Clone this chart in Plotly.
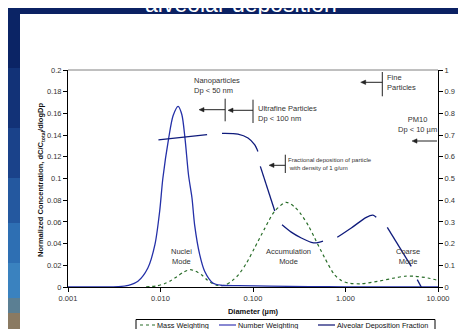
import plotly.graph_objects as go
import math

# ---------------- data ----------------
diam_number = [0.001, 0.003, 0.0035, 0.0045, 0.0057, 0.0073, 0.0087, 0.0098, 0.0106,
               0.01225, 0.0137, 0.0155, 0.017, 0.0184, 0.0201, 0.0219, 0.0234, 0.0265,
               0.030, 0.0368, 0.045, 0.07, 0.15, 0.4, 1.0, 3.0, 10.0]
number_weighting = [0.0, 0.0001, 0.0003, 0.0016, 0.0053, 0.0175, 0.039, 0.070, 0.100,
                    0.137, 0.158, 0.1665, 0.159, 0.137, 0.103, 0.082, 0.057, 0.030,
                    0.0145, 0.0037, 0.0016, 0.0012, 0.0008, 0.0004, 0.0002, 0.0001, 0.0]

diam_mass = [0.007, 0.009, 0.011, 0.013, 0.015, 0.018, 0.021, 0.024, 0.028, 0.032,
             0.036, 0.040, 0.045, 0.050, 0.060, 0.070, 0.085, 0.104, 0.134, 0.172,
             0.228, 0.28, 0.333, 0.40, 0.465, 0.595, 0.76, 0.9, 1.07, 1.49, 2.24,
             3.39, 4.35, 5.6, 7.78, 10.0]
mass_weighting = [0.0002, 0.001, 0.003, 0.006, 0.0095, 0.014, 0.016, 0.0145, 0.011, 0.0065,
                  0.0035, 0.0018, 0.0012, 0.0018, 0.006, 0.0115, 0.022, 0.036, 0.054, 0.070,
                  0.078, 0.074, 0.0666, 0.056, 0.045, 0.027, 0.0113, 0.006, 0.0037, 0.003, 0.0053,
                  0.0083, 0.0099, 0.0099, 0.0083, 0.006]

diam_alveolar = [0.0095, 0.0319, None,
                 0.0462, 0.0688, 0.0883, 0.104, 0.113, None,
                 0.12, 0.172, None,
                 0.206, 0.259, 0.333, 0.427, 0.483, 0.571, None,
                 0.815, 1.155, 1.679, 1.98, 2.15, None,
                 2.83, 5.14, None,
                 5.97, 6.59]
alveolar_fraction = [0.678, 0.702, None,
                     0.708, 0.705, 0.687, 0.656, 0.625, None,
                     0.556, 0.35, None,
                     0.287, 0.253, 0.226, 0.206, 0.203, 0.211, None,
                     0.229, 0.272, 0.321, 0.331, 0.321, None,
                     0.275, 0.095, None,
                     0.034, 0.0]

x_tick_vals = [0.001, 0.01, 0.1, 1, 10]
x_tick_text = ["0.001", "0.010", "0.100", "1.000", "10.000"]

series_names = ["Mass Weighting", "Number Weighting", "Alveolar Deposition Fraction"]

# size-class boundaries (µm) marked with bars and arrows
nano_limit = 0.05
ultrafine_limit = 0.1
fine_limit = 2.5

# ---------------- layout helpers ----------------
W, H = 466, 329
L, R, T, B = 60, 36, 62, 50
PW, PH = W - L - R, H - T - B


def P(px, py):
    return (px - L) / PW, (H - B - py) / PH


def XD(d):
    # pixel position of a diameter on the log axis
    return L + (math.log10(d) + 3) / 4 * PW


FONT = "Liberation Sans, Arial, sans-serif"
TXT = "#333333"
ARROW = "#222222"
C_MASS = "#2a6e2a"
C_NUM = "#2430a8"
C_ALV = "#0f1b7c"

fig = go.Figure()

fig.add_trace(go.Scatter(
    x=diam_mass, y=mass_weighting, name=series_names[0], mode="lines", showlegend=False,
    line=dict(color=C_MASS, width=1.2, dash="dot", shape="spline", smoothing=0.8)))
fig.add_trace(go.Scatter(
    x=diam_number, y=number_weighting, name=series_names[1], mode="lines", showlegend=False,
    line=dict(color=C_NUM, width=1.3, shape="spline", smoothing=0.8)))
fig.add_trace(go.Scatter(
    x=diam_alveolar, y=alveolar_fraction, name=series_names[2], mode="lines", showlegend=False,
    yaxis="y2", connectgaps=False,
    line=dict(color=C_ALV, width=1.3, shape="spline", smoothing=0.8)))

shapes = []
# slide background: top band and left strip
shapes.append(dict(type="rect", xref="paper", yref="paper",
                   x0=P(0, 0)[0], x1=P(W, 0)[0], y0=P(0, 6)[1], y1=P(0, -2)[1],
                   fillcolor="#0b2163", line=dict(width=0), layer="below"))
strip = [(0, 60, "#0b2465"), (60, 120, "#123277"), (120, 170, "#1a428a"),
         (170, 215, "#24589f"), (215, 255, "#2e6fb3"), (255, 290, "#3a82bf"),
         (290, 305, "#5b7f93"), (305, 331, "#8a7a62")]
for y0, y1, c in strip:
    shapes.append(dict(type="rect", xref="paper", yref="paper",
                       x0=P(-2, 0)[0], x1=P(12, 0)[0], y0=P(0, y1)[1], y1=P(0, y0)[1],
                       fillcolor=c, line=dict(width=0), layer="below"))
# gray top border of plot area
shapes.append(dict(type="line", xref="paper", yref="paper", x0=0, x1=1, y0=1, y1=1,
                   line=dict(color="#808080", width=1)))


def hline(x0, x1, py, color, width=1, dash="solid"):
    a = P(x0, py)
    b = P(x1, py)
    shapes.append(dict(type="line", xref="paper", yref="paper", x0=a[0], x1=b[0],
                       y0=a[1], y1=b[1], line=dict(color=color, width=width, dash=dash)))


def vbar(px, ytop, ybot):
    x = P(px, 0)[0]
    shapes.append(dict(type="line", xref="paper", yref="paper", x0=x, x1=x,
                       y0=P(0, ybot)[1], y1=P(0, ytop)[1],
                       line=dict(color=ARROW, width=1)))


def arrow(tail_px, head_px, py):
    hline(tail_px, head_px + 4, py, ARROW)
    a = P(head_px, py)
    b = P(head_px + 5, py - 2.2)
    c = P(head_px + 5, py + 2.2)
    shapes.append(dict(type="path", xref="paper", yref="paper",
                       path=f"M {a[0]},{a[1]} L {b[0]},{b[1]} L {c[0]},{c[1]} Z",
                       fillcolor=ARROW, line=dict(color=ARROW, width=0.5)))


vbar(XD(nano_limit), 90.7, 113.3)
vbar(XD(ultrafine_limit), 91.7, 115)
vbar(XD(fine_limit), 64, 88.3)
vbar(277.3, 146.7, 165)

arrow(XD(nano_limit), 191, 101.7)
arrow(XD(ultrafine_limit), 220, 102.3)
arrow(XD(fine_limit), 352.7, 74.3)
arrow(429, 404, 133)
arrow(277.3, 261, 157.3)

ann = []


def text(t, px, py, size=7.5, anchor="center", color=TXT, angle=0, bold=False):
    x, y = P(px, py)
    ann.append(dict(text=(f"<b>{t}</b>" if bold else t), x=x, y=y, xref="paper", yref="paper",
                    showarrow=False, xanchor=anchor, yanchor="middle",
                    align=anchor if anchor != "center" else "center",
                    textangle=angle, borderpad=0,
                    font=dict(family=FONT, size=size, color=color)))


text("alveolar deposition", 233, -4, size=23, color="white")
text("Nanoparticles<br>Dp < 50 nm", 185, 77.5, anchor="left")
text("Ultrafine Particles<br>Dp < 100 nm", 248.5, 105, anchor="left")
text("Fine<br>Particles", 377.5, 74.5, anchor="left")
text("PM10<br>Dp < 10 µm", 409, 116)
text("Fractional deposition of particle<br> with density of 1 g/um", 279, 155.7, size=6, anchor="left")
text("Nuclei<br>Mode", 173, 248)
text("Accumulation<br>Mode", 280, 248.6)
text("Coarse<br>Mode", 400, 248.6)

# axis titles
text("Normalized Concentration, dC/C<sub>total</sub>/dlogDp", 33, 172, color="#111111",
     angle=-90, bold=True)
text("Alveolar Deposition Fraction", 454, 167, color="#111111", angle=-90, bold=True)

# legend box (compact, as in the reference)
LEG_Y = 317
shapes.append(dict(type="rect", xref="paper", yref="paper",
                   x0=P(128, 0)[0], x1=P(427, 0)[0], y0=P(0, 322.5)[1], y1=P(0, 311.5)[1],
                   fillcolor="white", line=dict(color="#000000", width=1)))
legend_items = [(132, 147, C_MASS, "dot", series_names[0]),
                (211, 228, "#3a3ab4", "solid", series_names[1]),
                (310, 327, "#0a1070", "solid", series_names[2])]
for x0, x1, col, dash, name in legend_items:
    hline(x0, x1, LEG_Y, col, width=1.2, dash=dash)
    text(name, x1 + 0.5, LEG_Y, size=7.3, anchor="left", color="#111111")

fig.update_layout(
    width=W, height=H,
    margin=dict(l=L, r=R, t=T, b=B, pad=0, autoexpand=False),
    paper_bgcolor="white", plot_bgcolor="white",
    font=dict(family=FONT, size=7.5, color=TXT),
    showlegend=False,
    xaxis=dict(type="log", range=[-3, 1], tickvals=x_tick_vals, ticktext=x_tick_text,
               showgrid=False, zeroline=False, showline=True, linecolor="black", linewidth=1,
               ticks="outside", ticklen=4, tickcolor="black",
               tickfont=dict(family=FONT, size=7.5, color=TXT),
               title=dict(text="<b>Diameter (µm)</b>", standoff=6,
                          font=dict(family=FONT, size=7.5, color="#111111"))),
    yaxis=dict(range=[0, 0.2], dtick=0.02, showgrid=False, zeroline=False,
               showline=True, linecolor="black", linewidth=1,
               ticks="outside", ticklen=4, tickcolor="black",
               tickfont=dict(family=FONT, size=7.5, color=TXT)),
    yaxis2=dict(range=[0, 1], dtick=0.1, overlaying="y", side="right", showgrid=False,
                zeroline=False, showline=True, linecolor="black", linewidth=1,
                ticks="outside", ticklen=4, tickcolor="black",
                tickfont=dict(family=FONT, size=7.5, color=TXT)),
    shapes=shapes,
    annotations=ann,
)

fig.write_html("out.html")
